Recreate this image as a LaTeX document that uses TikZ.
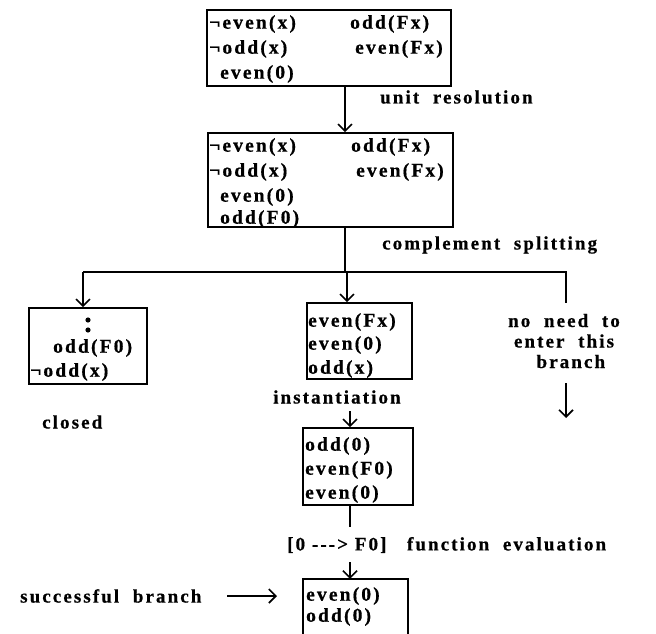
\documentclass[tikz,border=0pt]{standalone}
\usepackage{fontspec}
\setmainfont{Liberation Serif}[LetterSpace=11, BoldFeatures={FakeBold=0.6}]
\usetikzlibrary{arrows.meta}
\tikzset{
  boxed/.style={draw, line width=1.6pt, inner sep=0pt},
  txt/.style={anchor=west, inner sep=0pt, font=\fontsize{19.5}{22}\selectfont\bfseries},
  lbl/.style={anchor=west, inner sep=0pt, font=\fontsize{19}{22}\selectfont\bfseries},
  conn/.style={line width=1.4pt},
  arr/.style={line width=1.4pt, -{Straight Barb[length=7pt,width=14pt,line width=1.6pt]}},
}
\begin{document}
\begin{tikzpicture}[x=1pt,y=-1pt]
\useasboundingbox (0,0) rectangle (656,634);
% boxes
\node[boxed, minimum width=244pt, minimum height=76pt] (b1) at (329,48) {};
\node[boxed, minimum width=245pt, minimum height=94pt] (b2) at (330.5,180) {};
\node[boxed, minimum width=118pt, minimum height=76pt] (b3) at (88,346) {};
\node[boxed, minimum width=105pt, minimum height=76pt] (b4) at (359.5,341) {};
\node[boxed, minimum width=110pt, minimum height=77pt] (b5) at (358,466.5) {};
\draw[line width=1.6pt] (303,634) -- (303,579) -- (408,579) -- (408,634);
\node[draw=none, minimum width=105pt, minimum height=55pt, inner sep=0pt] (b6) at (355.5,606.5) {};
% box 1 text
\node[txt] (t11) at (209,24) {¬even(x)};
\node[txt] (t12) at (350,24) {odd(Fx)};
\node[txt] (t13) at (209,49) {¬odd(x)};
\node[txt] (t14) at (355,49) {even(Fx)};
\node[txt] (t15) at (220,74) {even(0)};
% box 2 text
\node[txt] (t21) at (209,147) {¬even(x)};
\node[txt] (t22) at (351,147) {odd(Fx)};
\node[txt] (t23) at (209,172) {¬odd(x)};
\node[txt] (t24) at (356,172) {even(Fx)};
\node[txt] (t25) at (220,197) {even(0)};
\node[txt] (t26) at (220,219) {odd(F0)};
% box 3 text
\fill (88,320) circle (2.6pt);
\fill (88,330) circle (2.6pt);
\node[txt] (t31) at (53,348) {odd(F0)};
\node[txt] (t32) at (30,372) {¬odd(x)};
% box 4 text
\node[txt] (t41) at (308,322) {even(Fx)};
\node[txt] (t42) at (308,345) {even(0)};
\node[txt] (t43) at (308,369) {odd(x)};
% box 5 text
\node[txt] (t51) at (305,446) {odd(0)};
\node[txt] (t52) at (305,470) {even(F0)};
\node[txt] (t53) at (305,494) {even(0)};
% box 6 text
\node[txt] (t61) at (306,596) {even(0)};
\node[txt] (t62) at (306,617) {odd(0)};
% labels
\node[lbl] (l1) at (380,97) {unit\ \ resolution};
\node[lbl] (l2) at (382,245) {complement\ \ splitting};
\node[lbl] (l3) at (273,397) {instantiation};
\node[lbl] (l4) at (42,422) {closed};
\node[lbl, anchor=center, align=center, font=\fontsize{19}{20.5}\selectfont\bfseries] (l5) at (564,341) {no\ \ need\ \ to\\enter\ \ this\\\ \ branch};
\node[lbl] (l6) at (287,545) {[0 -{}-{}-> F0]\ \ \ function\ \ evaluation};
\node[lbl] (l7) at (20,596) {successful\ \ branch};
% coordinates
\coordinate (c1) at (345,272);
\coordinate (cl) at (83,272);
\coordinate (cm) at (347,272);
\coordinate (cr) at (566,272);
\coordinate (re) at (566,303);
\coordinate (ra1) at (566,383);
\coordinate (ra2) at (566,418);
\coordinate (i1) at (350,411);
\coordinate (f1) at (350,527);
\coordinate (f2) at (350,562);
\coordinate (s1) at (227,596);
\coordinate (s2) at (277,596);
% connectors
\draw[arr] (b1.south -| c1) -- (b2.north -| c1);
\draw[conn] (b2.south -| c1) -- (c1);
\draw[conn] (cl) -- (cr) -- (re);
\draw[arr] (cl) -- (b3.north -| cl);
\draw[arr] (cm) -- (b4.north -| cm);
\draw[arr] (i1) -- (b5.north -| i1);
\draw[conn] (b5.south -| f1) -- (f1);
\draw[arr] (f2) -- (b6.north -| f2);
\draw[arr] (ra1) -- (ra2);
\draw[arr] (s1) -- (s2);
\end{tikzpicture}
\end{document}
